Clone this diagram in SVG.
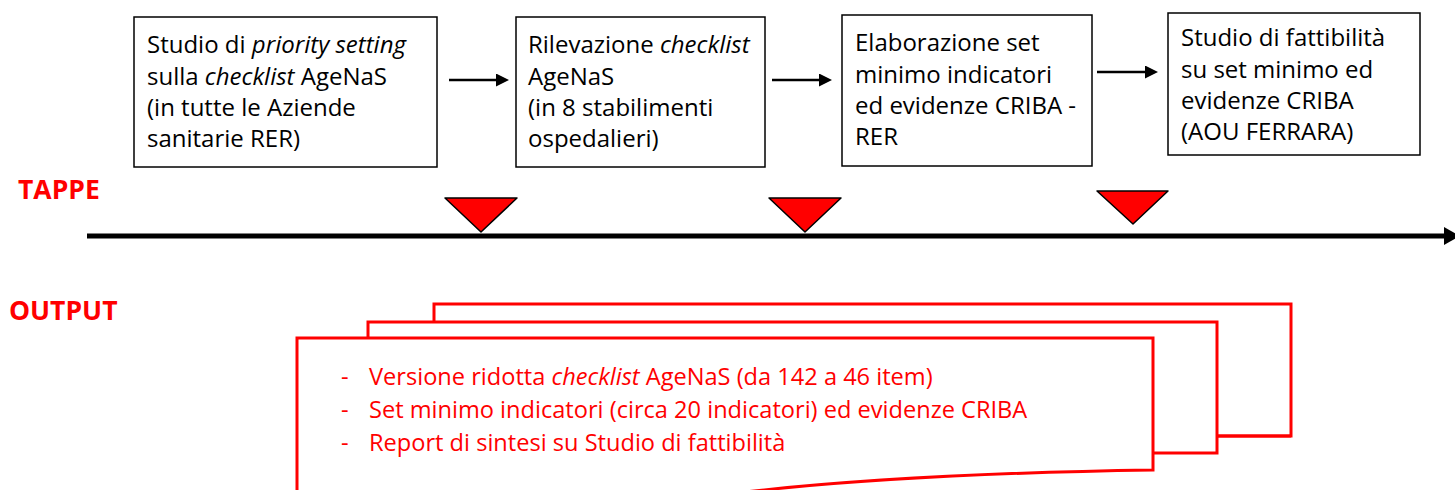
<svg xmlns="http://www.w3.org/2000/svg" width="1455" height="490" viewBox="0 0 1455 490">
<defs>
<style>
.box{fill:#fff;stroke:#000;stroke-width:1.5}
.bt{font-family:"Open Sans","Noto Sans",sans-serif;font-size:24px;fill:#000}
.it{font-style:italic}
.lbl{font-family:"Open Sans","Noto Sans",sans-serif;font-size:26.5px;font-weight:bold;fill:#ff0000}
.doc{fill:#fff;stroke:#ff0000;stroke-width:3}
.dt{font-family:"Open Sans","Noto Sans",sans-serif;font-size:23.6px;fill:#ff0000}
.conn{stroke:#000;stroke-width:2.5;fill:none}
.tri{fill:#ff0000;stroke:#000;stroke-width:1.5;stroke-linejoin:round}
</style>
<marker id="ah" markerWidth="13" markerHeight="13" refX="0" refY="6.5" orient="auto" markerUnits="userSpaceOnUse" viewBox="0 0 13 13">
<path d="M0,0 L13,6.5 L0,13 Z" fill="#000"/>
</marker>
</defs>

<g id="labels">
<text class="lbl" x="18" y="199">TAPPE</text>
<text class="lbl" x="9" y="320">OUTPUT</text>
</g>

<g id="node-1">
<rect class="box" x="134" y="17" width="303" height="150"/>
<text class="bt" x="147" y="53">Studio di <tspan class="it">priority setting</tspan></text>
<text class="bt" x="147" y="85">sulla <tspan class="it">checklist</tspan> AgeNaS</text>
<text class="bt" x="147" y="116">(in tutte le Aziende</text>
<text class="bt" x="147" y="147">sanitarie RER)</text>
</g>

<g id="node-2">
<rect class="box" x="516" y="17" width="249" height="150"/>
<text class="bt" x="528" y="53">Rilevazione <tspan class="it">checklist</tspan></text>
<text class="bt" x="528" y="85">AgeNaS</text>
<text class="bt" x="528" y="116">(in 8 stabilimenti</text>
<text class="bt" x="528" y="147">ospedalieri)</text>
</g>

<g id="node-3">
<rect class="box" x="842" y="15" width="250" height="151"/>
<text class="bt" x="855" y="51">Elaborazione set</text>
<text class="bt" x="855" y="83">minimo indicatori</text>
<text class="bt" x="855" y="114">ed evidenze CRIBA -</text>
<text class="bt" x="855" y="145">RER</text>
</g>

<g id="node-4">
<rect class="box" x="1168" y="13" width="252" height="142"/>
<text class="bt" x="1181" y="46">Studio di fattibilità</text>
<text class="bt" x="1181" y="78">su set minimo ed</text>
<text class="bt" x="1181" y="109">evidenze CRIBA</text>
<text class="bt" x="1181" y="140">(AOU FERRARA)</text>
</g>

<g id="connectors">
<line class="conn" x1="449" y1="80" x2="496" y2="80" marker-end="url(#ah)"/>
<line class="conn" x1="772" y1="80" x2="819" y2="80" marker-end="url(#ah)"/>
<line class="conn" x1="1097" y1="72" x2="1145" y2="72" marker-end="url(#ah)"/>
</g>

<g id="timeline">
<line x1="87" y1="236" x2="1447" y2="236" stroke="#000" stroke-width="5"/>
<polygon points="1444,227 1460,236 1444,245" fill="#000"/>
<polygon class="tri" points="445,198 517,198 481,232"/>
<polygon class="tri" points="769,198 841,198 805,232"/>
<polygon class="tri" points="1097,191 1168,191 1133,224"/>
</g>

<g id="output-docs">
<rect class="doc" x="434" y="304" width="857" height="132"/>
<path class="doc" d="M1217,436 L1291,436" />
<rect class="doc" x="368" y="322" width="849" height="131"/>
<path class="doc" d="M297,338 H1153 V470 C1020,472 870,478 745,492 C620,506 420,506 297,496 Z"/>
<text class="dt" x="341" y="385">-</text>
<text class="dt" x="369" y="385">Versione ridotta <tspan class="it">checklist</tspan> AgeNaS (da 142 a 46 item)</text>
<text class="dt" x="341" y="418">-</text>
<text class="dt" x="369" y="418">Set minimo indicatori (circa 20 indicatori) ed evidenze CRIBA</text>
<text class="dt" x="341" y="451">-</text>
<text class="dt" x="369" y="451">Report di sintesi su Studio di fattibilità</text>
</g>
</svg>
